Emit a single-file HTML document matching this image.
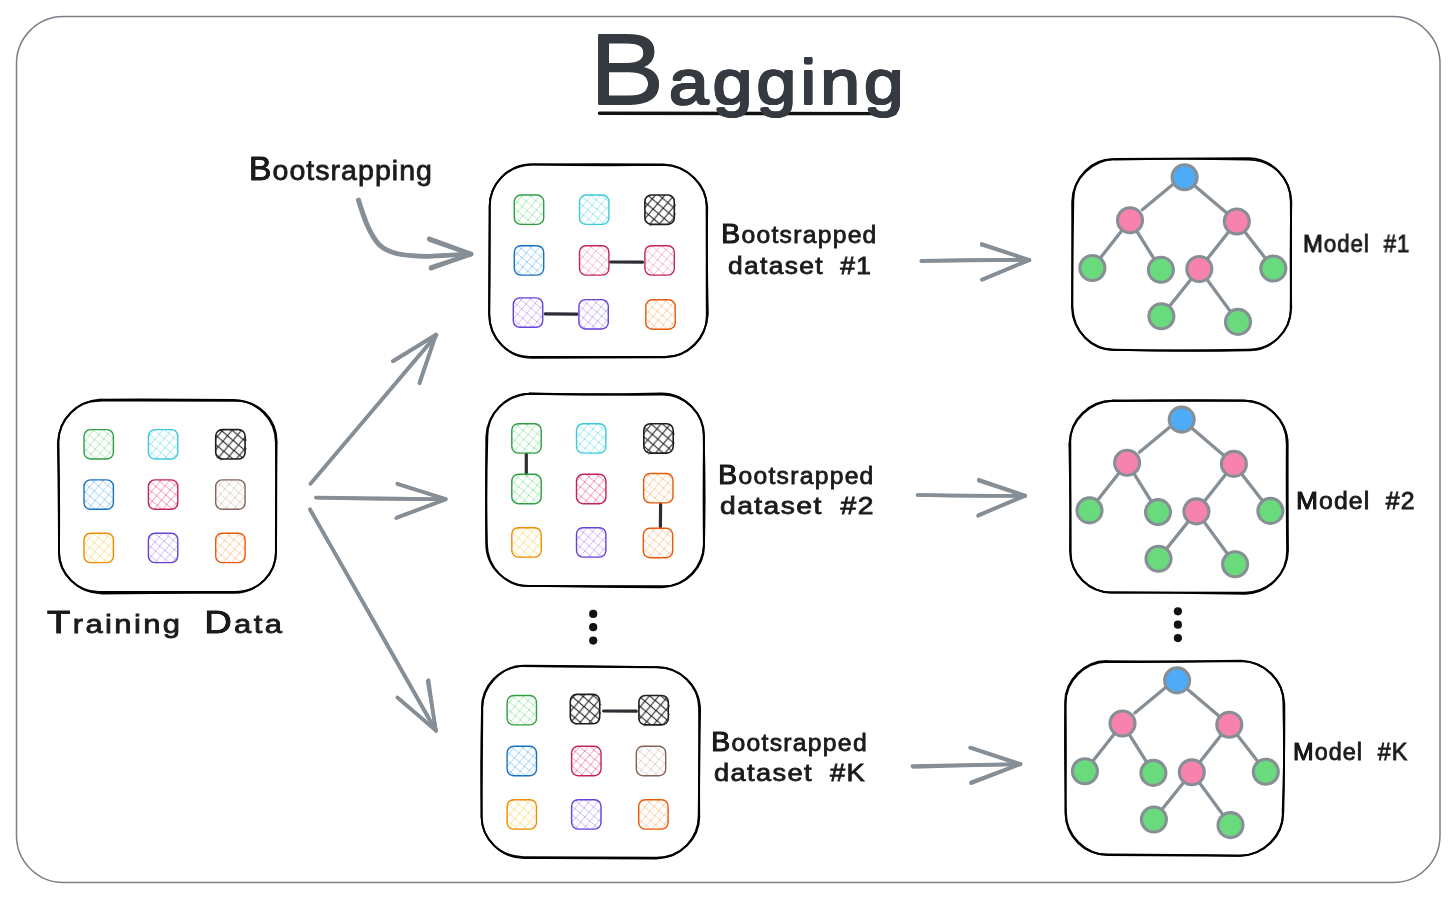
<!DOCTYPE html>
<html lang="en">
<head>
<meta charset="utf-8">
<title>Bagging</title>
<style>
html,body{margin:0;padding:0;background:#fff;overflow:hidden;}
#stage{position:relative;width:1456px;height:899px;overflow:hidden;background:#fff;font-family:"Liberation Sans",sans-serif;}
#stage svg{position:absolute;left:0;top:0;display:block;}
.t{position:absolute;will-change:transform;white-space:nowrap;line-height:1;color:#1b1b1b;transform-origin:0 0;margin:0;letter-spacing:1px;-webkit-text-stroke:0.8px #1b1b1b;}
.t span{display:inline-block;}
.t::first-letter,.t span::first-letter{text-shadow:0.2px 0 0 #1b1b1b,-0.2px 0 0 #1b1b1b,0 0.2px 0 #1b1b1b,0 -0.2px 0 #1b1b1b;}
.lab{font-size:28px;}
.lab::first-letter{font-size:33px;}
.sm{font-size:23.5px;word-spacing:7px;letter-spacing:1.2px;}
.sm.cap::first-letter{font-size:27.5px;}
.sm.low::first-letter{text-shadow:none;}
.sm.mod{font-size:23px;letter-spacing:1px;}
.sm.mod::first-letter{font-size:24.5px;}
#train{font-size:26px;word-spacing:9px;letter-spacing:2px;}
#train span::first-letter{font-size:32px;}
#title{font-size:63px;font-weight:normal;color:#343a40;letter-spacing:3.5px;-webkit-text-stroke:0;text-shadow:1px 0 0 #343a40,-1px 0 0 #343a40,0 1px 0 #343a40,0 -1px 0 #343a40,0.7px 0.7px 0 #343a40,-0.7px 0.7px 0 #343a40,0.7px -0.7px 0 #343a40,-0.7px -0.7px 0 #343a40;}
#title::first-letter{font-size:100px;text-shadow:0 0.8px 0 #343a40,0 -0.8px 0 #343a40;}

</style>
</head>
<body>
<div id="stage">
<svg width="1456" height="899" viewBox="0 0 1456 899">
<defs>
<pattern id="h_green" patternUnits="userSpaceOnUse" width="9.3" height="9.3" patternTransform="rotate(-5)"><path d="M-1 -1 L10.3 10.3 M10.3 -1 L-1 10.3" stroke="#a2e8ad" stroke-width="0.9" opacity="1" fill="none"/></pattern>
<pattern id="h_cyan" patternUnits="userSpaceOnUse" width="9.3" height="9.3" patternTransform="rotate(-5)"><path d="M-1 -1 L10.3 10.3 M10.3 -1 L-1 10.3" stroke="#8ee5ef" stroke-width="0.9" opacity="1" fill="none"/></pattern>
<pattern id="h_black" patternUnits="userSpaceOnUse" width="10.2" height="10.2" patternTransform="rotate(-5)"><path d="M-1 -1 L11.2 11.2 M11.2 -1 L-1 11.2" stroke="#1e1e1e" stroke-width="1.1" opacity="1" fill="none"/></pattern>
<pattern id="h_blue" patternUnits="userSpaceOnUse" width="9.3" height="9.3" patternTransform="rotate(-5)"><path d="M-1 -1 L10.3 10.3 M10.3 -1 L-1 10.3" stroke="#94ccf8" stroke-width="0.9" opacity="1" fill="none"/></pattern>
<pattern id="h_pink" patternUnits="userSpaceOnUse" width="9.3" height="9.3" patternTransform="rotate(-5)"><path d="M-1 -1 L10.3 10.3 M10.3 -1 L-1 10.3" stroke="#f5afc8" stroke-width="0.9" opacity="1" fill="none"/></pattern>
<pattern id="h_pinkd" patternUnits="userSpaceOnUse" width="9.4" height="9.4" patternTransform="rotate(-5)"><path d="M-1 -1 L10.4 10.4 M10.4 -1 L-1 10.4" stroke="#f783ac" stroke-width="0.9" opacity="1" fill="none"/></pattern>
<pattern id="h_brown" patternUnits="userSpaceOnUse" width="9.3" height="9.3" patternTransform="rotate(-5)"><path d="M-1 -1 L10.3 10.3 M10.3 -1 L-1 10.3" stroke="#decec8" stroke-width="0.9" opacity="1" fill="none"/></pattern>
<pattern id="h_yellow" patternUnits="userSpaceOnUse" width="9.3" height="9.3" patternTransform="rotate(-5)"><path d="M-1 -1 L10.3 10.3 M10.3 -1 L-1 10.3" stroke="#fde087" stroke-width="0.9" opacity="1" fill="none"/></pattern>
<pattern id="h_purple" patternUnits="userSpaceOnUse" width="9.3" height="9.3" patternTransform="rotate(-5)"><path d="M-1 -1 L10.3 10.3 M10.3 -1 L-1 10.3" stroke="#c3b0fa" stroke-width="0.9" opacity="1" fill="none"/></pattern>
<pattern id="h_orange" patternUnits="userSpaceOnUse" width="9.3" height="9.3" patternTransform="rotate(-5)"><path d="M-1 -1 L10.3 10.3 M10.3 -1 L-1 10.3" stroke="#fcc995" stroke-width="0.9" opacity="1" fill="none"/></pattern>
</defs>
<rect x="16.5" y="16.6" width="1423.5" height="866" rx="47" ry="47" fill="#fff" stroke="#7a7f88" stroke-width="1.5"/>
<path d="M599.5 113.3 L895 113.6" stroke="#111" stroke-width="3.4" stroke-linecap="round" fill="none"/>
<g fill="none" stroke="#000" stroke-width="1.9" stroke-linecap="round">
<path d="M101.4 399.6 Q168.8 399.3 233.8 400 C256.7 400.2 275.9 419.3 275.9 442.5 Q276.5 498.8 276 549.2 C276.9 574.3 257.6 592.5 234.6 591.9 Q170.3 592.2 101.1 592 C77.6 593.3 58.1 573.6 59 549.5 Q58.8 493.3 57.9 442.7 C59 419.3 77.6 400.4 101.3 399.4"/>
<path d="M102.2 400.6 Q165.9 400.4 233.7 400.9 C257.9 399.8 277.6 418.8 276.6 443.7 Q275.9 496.4 275.9 550 C277.2 573.6 258.1 592.4 234.1 592.9 Q168.3 592.6 102.3 593.5 C77.9 593 57.9 573.8 59 550.6 Q59.4 494.9 58.5 443.5 C57.8 419.4 77.4 399.5 101 400.8"/>
</g>
<g fill="none" stroke="#000" stroke-width="1.9" stroke-linecap="round">
<path d="M531.3 164.5 Q597.2 165.8 663.2 164.9 C687.8 165.7 707.6 184.9 706.6 207.8 Q706.7 264.1 707.8 314 C706.4 337.9 687.3 357.6 664.2 357.2 Q594.4 357.4 531.8 357.7 C509.1 357.9 489 338.6 489.3 313.8 Q489.9 263.3 489.7 208.5 C488.8 184.1 507.5 165.2 530.2 164.2"/>
<path d="M531.5 164.4 Q596.8 164 663.1 164.4 C687 164.8 706.1 184.9 707.2 207.4 Q706.5 260.2 706.8 313.9 C707.6 339.2 687.7 357.6 663.3 356.9 Q596.9 357.1 532.6 357 C507.4 358.4 489.1 337.7 489.1 313.7 Q489.1 264.7 489.7 208.4 C488.6 184 507.7 165.5 531.6 164.6"/>
</g>
<g fill="none" stroke="#000" stroke-width="1.9" stroke-linecap="round">
<path d="M529.3 393.5 Q597.7 395 661.9 394.6 C685.6 394.4 703.8 413.3 704 436.2 Q703.3 488.6 703.9 543.7 C705.1 567.1 685.8 587.3 662.1 586.2 Q593.4 585.8 529.1 585.9 C506.1 587.1 487.2 567.1 486.9 543.9 Q485.7 491.4 487.3 437.5 C487.1 413.2 505.3 394.5 528.8 393.7"/>
<path d="M530.4 393.8 Q594.7 395 661.7 393.4 C684.4 393.4 705 413.8 703.7 437.6 Q705.3 491.3 704 543.5 C703.6 566.3 685.9 586.7 661.3 587.2 Q595 587.2 530.2 585.9 C505.4 586 486.1 567.3 486.2 543.3 Q485.8 493.2 486.3 436.9 C486.8 414 505.7 394.8 530.5 393.8"/>
</g>
<g fill="none" stroke="#000" stroke-width="1.9" stroke-linecap="round">
<path d="M524.5 665.7 Q590 665.9 655.5 667.1 C679.6 666.6 699.8 686 699.1 709.6 Q699.5 764.3 698.7 815.1 C698.9 838.3 680.6 858 656.5 858.5 Q593.4 857.9 524.7 858 C500.8 858.3 481.4 838.8 481.5 815.8 Q481.9 765 482.3 709.2 C481.6 686.6 501.4 665.9 523.5 665.7"/>
<path d="M523.7 666.1 Q587.4 667 656.9 667.3 C679.5 667 699.7 685.2 700.1 710.4 Q698.8 765.6 699.2 815 C700.3 839.3 679.5 857.9 656.4 857.7 Q588.3 857.6 524.9 857.1 C500.8 857.9 480.6 838.4 481.7 815 Q480.6 765.8 482 710.4 C480.8 685.4 499.9 667.1 523.1 665.9"/>
</g>
<g fill="none" stroke="#000" stroke-width="1.9" stroke-linecap="round">
<path d="M1115.7 159.5 Q1184.2 158.3 1247.4 159.6 C1271.9 159.2 1290.3 177.3 1291.3 201.7 Q1290.1 257.8 1291.2 308 C1290.3 331.9 1271 351.2 1247.9 350.2 Q1182.3 351.4 1115.4 349.8 C1092.1 350 1072.1 330.6 1072 307 Q1072.4 253.2 1073.3 201.4 C1072.8 177.5 1091.8 157.9 1115 159.2"/>
<path d="M1116.2 158.9 Q1179.7 158.7 1248.8 158.1 C1272.3 158.7 1291 178.7 1290.8 201.8 Q1291.4 258.1 1290.7 308.1 C1291.4 331.5 1271.6 350.2 1247.2 349.8 Q1178.8 351 1115.4 349.9 C1091.3 351.1 1073.5 331.6 1072.4 307 Q1072.4 254.4 1072.2 201.7 C1072.4 178.9 1092.9 158.9 1115.5 159.2"/>
</g>
<g fill="none" stroke="#000" stroke-width="1.9" stroke-linecap="round">
<path d="M1112.7 400.5 Q1175.2 400.5 1244.5 400.8 C1267.7 400.8 1286.6 419.6 1286.8 443.6 Q1286.5 493.5 1287.1 549.5 C1287.7 573.8 1268.7 593.3 1244.9 593.7 Q1178 592.6 1113.9 592.4 C1089.7 593.3 1069.2 574.4 1070.7 550.2 Q1070.5 499.1 1069.4 443.8 C1070 420.7 1089.8 401.4 1112.9 400.8"/>
<path d="M1113.3 401.1 Q1176.8 399.8 1243.8 400.5 C1267.5 401.4 1287.6 420.3 1287.7 444.1 Q1287.5 493.3 1288 550.4 C1287.5 573.8 1268.5 592.2 1244.9 592.6 Q1175.7 592.5 1113.4 592.5 C1089.7 593.9 1070 573.5 1070 550.3 Q1070.6 497.7 1070.3 443 C1069.4 419.6 1089.7 400.4 1113.5 400.8"/>
</g>
<g fill="none" stroke="#000" stroke-width="1.9" stroke-linecap="round">
<path d="M1107.4 661.1 Q1175.6 661.9 1240.9 661.1 C1264.4 661.4 1283.5 680.1 1284.3 704 Q1284.6 761.4 1282.7 811.9 C1284.2 836.6 1264.3 854.6 1240.1 855.8 Q1172.3 855.2 1107.6 855 C1085.3 854.3 1065.8 835.8 1065.9 812.4 Q1064.6 761.1 1065.2 703.6 C1064.3 680.7 1084.4 661.1 1106.4 661"/>
<path d="M1107.9 662.1 Q1170.8 662 1241.2 660.8 C1265.1 661.9 1284.3 680.4 1283.4 704.3 Q1284.7 758.9 1283.3 811.9 C1283.2 834.9 1263.6 855.6 1240.2 855.8 Q1172.6 854.5 1108.2 854.4 C1084.2 855.8 1065.9 836.3 1065.4 812.7 Q1066.2 758.6 1065.6 703.7 C1065.6 680.7 1084.9 661.8 1107.3 661.8"/>
</g>
<rect x="84" y="429.6" width="29.4" height="29.4" rx="6.5" fill="url(#h_green)" stroke="#2f9e44" stroke-width="1.4"/>
<rect x="148.4" y="429.6" width="29.4" height="29.4" rx="6.5" fill="url(#h_cyan)" stroke="#3bc9db" stroke-width="1.4"/>
<rect x="215.7" y="429.6" width="29.4" height="29.4" rx="6.5" fill="url(#h_black)" stroke="#1e1e1e" stroke-width="1.6"/>
<path d="M244.6 438.3 l2.2 2 M244.6 447.3 l2 1.6 M222.7 458.5 l-2 2" stroke="#1e1e1e" stroke-width="0.9" fill="none"/>
<rect x="84" y="479.9" width="29.4" height="29.4" rx="6.5" fill="url(#h_blue)" stroke="#1971c2" stroke-width="1.4"/>
<rect x="148.4" y="479.9" width="29.4" height="29.4" rx="6.5" fill="url(#h_pinkd)" stroke="#c2255c" stroke-width="1.4"/>
<rect x="215.7" y="479.9" width="29.4" height="29.4" rx="6.5" fill="url(#h_brown)" stroke="#846358" stroke-width="1.4"/>
<rect x="84" y="533.2" width="29.4" height="29.4" rx="6.5" fill="url(#h_yellow)" stroke="#f08c00" stroke-width="1.4"/>
<rect x="148.4" y="533.2" width="29.4" height="29.4" rx="6.5" fill="url(#h_purple)" stroke="#6741d9" stroke-width="1.4"/>
<rect x="215.7" y="533.2" width="29.4" height="29.4" rx="6.5" fill="url(#h_orange)" stroke="#e8590c" stroke-width="1.4"/>
<path d="M610.5 262 L642.5 262.2" stroke="#2b2f33" stroke-width="3.2" stroke-linecap="round" fill="none"/>
<path d="M545.2 313.8 L577 314.2" stroke="#2b2f33" stroke-width="3.2" stroke-linecap="round" fill="none"/>
<rect x="514.3" y="195" width="29.4" height="29.4" rx="6.5" fill="url(#h_green)" stroke="#2f9e44" stroke-width="1.4"/>
<rect x="579.5" y="195" width="29.4" height="29.4" rx="6.5" fill="url(#h_cyan)" stroke="#3bc9db" stroke-width="1.4"/>
<rect x="644.9" y="195" width="29.4" height="29.4" rx="6.5" fill="url(#h_black)" stroke="#1e1e1e" stroke-width="1.6"/>
<path d="M673.8 203.7 l2.2 2 M673.8 212.7 l2 1.6 M651.9 223.9 l-2 2" stroke="#1e1e1e" stroke-width="0.9" fill="none"/>
<rect x="514.3" y="245.7" width="29.4" height="29.4" rx="6.5" fill="url(#h_blue)" stroke="#1971c2" stroke-width="1.4"/>
<rect x="579.5" y="245.7" width="29.4" height="29.4" rx="6.5" fill="url(#h_pink)" stroke="#c2255c" stroke-width="1.4"/>
<rect x="644.9" y="245.7" width="29.4" height="29.4" rx="6.5" fill="url(#h_pink)" stroke="#c2255c" stroke-width="1.4"/>
<rect x="513.3" y="297.9" width="29.4" height="29.4" rx="6.5" fill="url(#h_purple)" stroke="#6741d9" stroke-width="1.4"/>
<rect x="578.9" y="299.6" width="29.4" height="29.4" rx="6.5" fill="url(#h_purple)" stroke="#6741d9" stroke-width="1.4"/>
<rect x="645.8" y="299.8" width="29.4" height="29.4" rx="6.5" fill="url(#h_orange)" stroke="#e8590c" stroke-width="1.4"/>
<path d="M526.3 454 L526.3 473.8" stroke="#2b2f33" stroke-width="3.2" stroke-linecap="round" fill="none"/>
<path d="M660.6 504.2 L660.4 527" stroke="#2b2f33" stroke-width="3.2" stroke-linecap="round" fill="none"/>
<rect x="511.8" y="423.7" width="29.4" height="29.4" rx="6.5" fill="url(#h_green)" stroke="#2f9e44" stroke-width="1.4"/>
<rect x="576.5" y="423.7" width="29.4" height="29.4" rx="6.5" fill="url(#h_cyan)" stroke="#3bc9db" stroke-width="1.4"/>
<rect x="643.8" y="423.7" width="29.4" height="29.4" rx="6.5" fill="url(#h_black)" stroke="#1e1e1e" stroke-width="1.6"/>
<path d="M672.7 432.4 l2.2 2 M672.7 441.4 l2 1.6 M650.8 452.6 l-2 2" stroke="#1e1e1e" stroke-width="0.9" fill="none"/>
<rect x="511.8" y="474.3" width="29.4" height="29.4" rx="6.5" fill="url(#h_green)" stroke="#2f9e44" stroke-width="1.4"/>
<rect x="576.5" y="474.3" width="29.4" height="29.4" rx="6.5" fill="url(#h_pinkd)" stroke="#c2255c" stroke-width="1.4"/>
<rect x="643.6" y="473.5" width="29.4" height="29.4" rx="6.5" fill="url(#h_orange)" stroke="#e8590c" stroke-width="1.4"/>
<rect x="511.8" y="527.7" width="29.4" height="29.4" rx="6.5" fill="url(#h_yellow)" stroke="#f08c00" stroke-width="1.4"/>
<rect x="576.5" y="527.7" width="29.4" height="29.4" rx="6.5" fill="url(#h_purple)" stroke="#6741d9" stroke-width="1.4"/>
<rect x="643.3" y="528.3" width="29.4" height="29.4" rx="6.5" fill="url(#h_orange)" stroke="#e8590c" stroke-width="1.4"/>
<path d="M603.6 711 L636.3 711.2" stroke="#2b2f33" stroke-width="3.2" stroke-linecap="round" fill="none"/>
<rect x="507.1" y="695.5" width="29.4" height="29.4" rx="6.5" fill="url(#h_green)" stroke="#2f9e44" stroke-width="1.4"/>
<rect x="570.3" y="694.4" width="29.4" height="29.4" rx="6.5" fill="url(#h_black)" stroke="#1e1e1e" stroke-width="1.6"/>
<path d="M599.2 703.1 l2.2 2 M599.2 712.1 l2 1.6 M577.3 723.3 l-2 2" stroke="#1e1e1e" stroke-width="0.9" fill="none"/>
<rect x="638.9" y="695.5" width="29.4" height="29.4" rx="6.5" fill="url(#h_black)" stroke="#1e1e1e" stroke-width="1.6"/>
<path d="M667.8 704.2 l2.2 2 M667.8 713.2 l2 1.6 M645.9 724.4 l-2 2" stroke="#1e1e1e" stroke-width="0.9" fill="none"/>
<rect x="507.1" y="746.3" width="29.4" height="29.4" rx="6.5" fill="url(#h_blue)" stroke="#1971c2" stroke-width="1.4"/>
<rect x="571.6" y="746.3" width="29.4" height="29.4" rx="6.5" fill="url(#h_pinkd)" stroke="#c2255c" stroke-width="1.4"/>
<rect x="636.3" y="746.3" width="29.4" height="29.4" rx="6.5" fill="url(#h_brown)" stroke="#846358" stroke-width="1.4"/>
<rect x="507.1" y="799.7" width="29.4" height="29.4" rx="6.5" fill="url(#h_yellow)" stroke="#f08c00" stroke-width="1.4"/>
<rect x="571.6" y="799.7" width="29.4" height="29.4" rx="6.5" fill="url(#h_purple)" stroke="#6741d9" stroke-width="1.4"/>
<rect x="638.7" y="799.7" width="29.4" height="29.4" rx="6.5" fill="url(#h_orange)" stroke="#e8590c" stroke-width="1.4"/>
<g transform="translate(0 0)">
<g stroke="#868e96" stroke-width="3.3" stroke-linecap="round" fill="none">
<path d="M1130 220.3 L1092.4 268"/>
<path d="M1130 220.3 L1160.9 269.7"/>
<path d="M1184.6 177.2 L1236.8 221.5"/>
<path d="M1236.8 221.5 L1199.3 269"/>
<path d="M1236.8 221.5 L1273.3 268.5"/>
<path d="M1199.3 269 L1161.4 316.3"/>
<path d="M1199.3 269 L1238 321.9"/>
<path d="M1174 183.5 L1142.3 209.8"/>
</g>
<g stroke="#868e96" stroke-width="3.1">
<circle cx="1184.6" cy="177.2" r="12.5" fill="#4dabf7"/>
<circle cx="1130" cy="220.3" r="12.5" fill="#f783ac"/>
<circle cx="1236.8" cy="221.5" r="12.5" fill="#f783ac"/>
<circle cx="1092.4" cy="268" r="12.5" fill="#69db7c"/>
<circle cx="1160.9" cy="269.7" r="12.5" fill="#69db7c"/>
<circle cx="1199.3" cy="269" r="12.5" fill="#f783ac"/>
<circle cx="1273.3" cy="268.5" r="12.5" fill="#69db7c"/>
<circle cx="1161.4" cy="316.3" r="12.5" fill="#69db7c"/>
<circle cx="1238" cy="321.9" r="12.5" fill="#69db7c"/>
</g></g>
<g transform="translate(-2.9 242.4)">
<g stroke="#868e96" stroke-width="3.3" stroke-linecap="round" fill="none">
<path d="M1130 220.3 L1092.4 268"/>
<path d="M1130 220.3 L1160.9 269.7"/>
<path d="M1184.6 177.2 L1236.8 221.5"/>
<path d="M1236.8 221.5 L1199.3 269"/>
<path d="M1236.8 221.5 L1273.3 268.5"/>
<path d="M1199.3 269 L1161.4 316.3"/>
<path d="M1199.3 269 L1238 321.9"/>
<path d="M1174 183.5 L1142.3 209.8"/>
</g>
<g stroke="#868e96" stroke-width="3.1">
<circle cx="1184.6" cy="177.2" r="12.5" fill="#4dabf7"/>
<circle cx="1130" cy="220.3" r="12.5" fill="#f783ac"/>
<circle cx="1236.8" cy="221.5" r="12.5" fill="#f783ac"/>
<circle cx="1092.4" cy="268" r="12.5" fill="#69db7c"/>
<circle cx="1160.9" cy="269.7" r="12.5" fill="#69db7c"/>
<circle cx="1199.3" cy="269" r="12.5" fill="#f783ac"/>
<circle cx="1273.3" cy="268.5" r="12.5" fill="#69db7c"/>
<circle cx="1161.4" cy="316.3" r="12.5" fill="#69db7c"/>
<circle cx="1238" cy="321.9" r="12.5" fill="#69db7c"/>
</g></g>
<g transform="translate(-7.5 503.2)">
<g stroke="#868e96" stroke-width="3.3" stroke-linecap="round" fill="none">
<path d="M1130 220.3 L1092.4 268"/>
<path d="M1130 220.3 L1160.9 269.7"/>
<path d="M1184.6 177.2 L1236.8 221.5"/>
<path d="M1236.8 221.5 L1199.3 269"/>
<path d="M1236.8 221.5 L1273.3 268.5"/>
<path d="M1199.3 269 L1161.4 316.3"/>
<path d="M1199.3 269 L1238 321.9"/>
<path d="M1174 183.5 L1142.3 209.8"/>
</g>
<g stroke="#868e96" stroke-width="3.1">
<circle cx="1184.6" cy="177.2" r="12.5" fill="#4dabf7"/>
<circle cx="1130" cy="220.3" r="12.5" fill="#f783ac"/>
<circle cx="1236.8" cy="221.5" r="12.5" fill="#f783ac"/>
<circle cx="1092.4" cy="268" r="12.5" fill="#69db7c"/>
<circle cx="1160.9" cy="269.7" r="12.5" fill="#69db7c"/>
<circle cx="1199.3" cy="269" r="12.5" fill="#f783ac"/>
<circle cx="1273.3" cy="268.5" r="12.5" fill="#69db7c"/>
<circle cx="1161.4" cy="316.3" r="12.5" fill="#69db7c"/>
<circle cx="1238" cy="321.9" r="12.5" fill="#69db7c"/>
</g></g>
<g fill="none" stroke="#868e96" stroke-width="3.6" stroke-linecap="round" stroke-linejoin="round">
<path d="M310.5 483.8 Q374.1 408.8 436.1 335.1"/>
<path d="M393.4 361.3 L436.3 334.8"/>
<path d="M419.6 383.3 L436 334.7"/>
<path d="M310.5 483.7 Q372.8 410.2 436.5 335.3"/>
<path d="M392.7 361.1 L436 334.6"/>
<path d="M419.3 382.9 L436 334.7"/>
</g>
<g fill="none" stroke="#868e96" stroke-width="3.6" stroke-linecap="round" stroke-linejoin="round">
<path d="M316.3 497.7 Q380.9 499.2 445.4 499.3"/>
<path d="M397.2 483.6 L445.2 499.1"/>
<path d="M397.4 517.3 L445.5 499.4"/>
<path d="M315.8 497.5 Q381.4 498 445.4 499.3"/>
<path d="M398 484.2 L445.8 499"/>
<path d="M396.2 518.1 L445.8 499.3"/>
</g>
<g fill="none" stroke="#868e96" stroke-width="3.6" stroke-linecap="round" stroke-linejoin="round">
<path d="M309.9 509.6 Q373.1 618.9 436.1 730.8"/>
<path d="M428.5 680.1 L435.6 730.3"/>
<path d="M397.8 697.9 L436.2 730.7"/>
<path d="M310 509.2 Q373.2 620.3 435.6 730.7"/>
<path d="M427.6 680.9 L436 730.4"/>
<path d="M397.3 697.4 L436 730.6"/>
</g>
<g fill="none" stroke="#868e96" stroke-width="3.6" stroke-linecap="round" stroke-linejoin="round">
<path d="M921.2 260.9 Q974.6 259.7 1029.2 259.9"/>
<path d="M981.8 243.9 L1029.2 260.1"/>
<path d="M982.3 279.5 L1029.6 260.1"/>
<path d="M921.7 261 Q974.8 260 1029.2 259.8"/>
<path d="M981.7 244.7 L1029.2 259.9"/>
<path d="M981.9 279.8 L1029.1 259.8"/>
</g>
<g fill="none" stroke="#868e96" stroke-width="3.6" stroke-linecap="round" stroke-linejoin="round">
<path d="M917.7 495 Q971 495.4 1025.2 496"/>
<path d="M978.8 479.7 L1025.3 495.7"/>
<path d="M978.8 514.9 L1024.8 496"/>
<path d="M917.5 495 Q970.9 496.4 1024.8 495.7"/>
<path d="M979 480.7 L1024.7 495.7"/>
<path d="M978 515.8 L1024.7 495.5"/>
</g>
<g fill="none" stroke="#868e96" stroke-width="3.6" stroke-linecap="round" stroke-linejoin="round">
<path d="M913.1 766.9 Q965.7 765.1 1020.4 764.5"/>
<path d="M970.2 747.8 L1020 764.4"/>
<path d="M971.5 782.2 L1020.3 764"/>
<path d="M912.3 766 Q966.2 765 1020 764"/>
<path d="M970.3 747.5 L1020.5 763.9"/>
<path d="M971 783.2 L1020.4 764.1"/>
</g>
<g fill="none" stroke="#868e96" stroke-width="4.3" stroke-linecap="round" stroke-linejoin="round">
<path d="M358.5 200.1 C364 218 369 233 379 244.7 C389 254 402 256 428 256.6 L471 254.2" transform="translate(-0.4 -0)"/>
<path d="M429.5 239.7 L470.8 254.1"/>
<path d="M431.1 267.3 L470.9 254.4"/>
<path d="M358.5 200.1 C364 218 369 233 379 244.7 C389 254 402 256 428 256.6 L471 254.2" transform="translate(0.2 -0.4)"/>
<path d="M429.1 238.6 L471.3 254"/>
<path d="M430.9 268.4 L470.9 254"/>
</g>
<circle cx="593.2" cy="613.9" r="4.1" fill="#111"/>
<circle cx="593.2" cy="627.2" r="4.1" fill="#111"/>
<circle cx="593.2" cy="640.6" r="4.1" fill="#111"/>
<circle cx="1177.9" cy="611.3" r="4.1" fill="#111"/>
<circle cx="1177.9" cy="624.7" r="4.1" fill="#111"/>
<circle cx="1177.9" cy="638.1" r="4.1" fill="#111"/>
</svg>
<div class="t" id="title" style="left:589.3px;top:18.6px;transform:scaleX(1.137);">Bagging</div>
<div class="t lab" id="boot" style="left:249.3px;top:151.6px;transform:scaleX(1.020);">Bootsrapping</div>
<div class="t lab" id="train" style="left:47.0px;top:605.8px;transform:scaleX(1.192);"><span>Training</span> <span>Data</span></div>
<div class="t sm cap" id="b1a" style="left:721.4px;top:220.2px;transform:scaleX(1.050);">Bootsrapped</div>
<div class="t sm low" id="b1b" style="left:728.2px;top:254.5px;transform:scaleX(1.121);">dataset #1</div>
<div class="t sm cap" id="b2a" style="left:718.0px;top:460.5px;transform:scaleX(1.050);">Bootsrapped</div>
<div class="t sm low" id="b2b" style="left:719.6px;top:495.0px;transform:scaleX(1.202);">dataset #2</div>
<div class="t sm cap" id="b3a" style="left:711.3px;top:727.9px;transform:scaleX(1.052);">Bootsrapped</div>
<div class="t sm low" id="b3b" style="left:714.1px;top:762.4px;transform:scaleX(1.158);">dataset #K</div>
<div class="t sm mod" id="m1" style="left:1302.7px;top:232.1px;transform:scaleX(0.969);">Model #1</div>
<div class="t sm mod" id="m2" style="left:1296.3px;top:488.5px;transform:scaleX(1.078);">Model #2</div>
<div class="t sm mod" id="m3" style="left:1292.6px;top:739.8px;transform:scaleX(1.016);">Model #K</div>

</div>
</body>
</html>
